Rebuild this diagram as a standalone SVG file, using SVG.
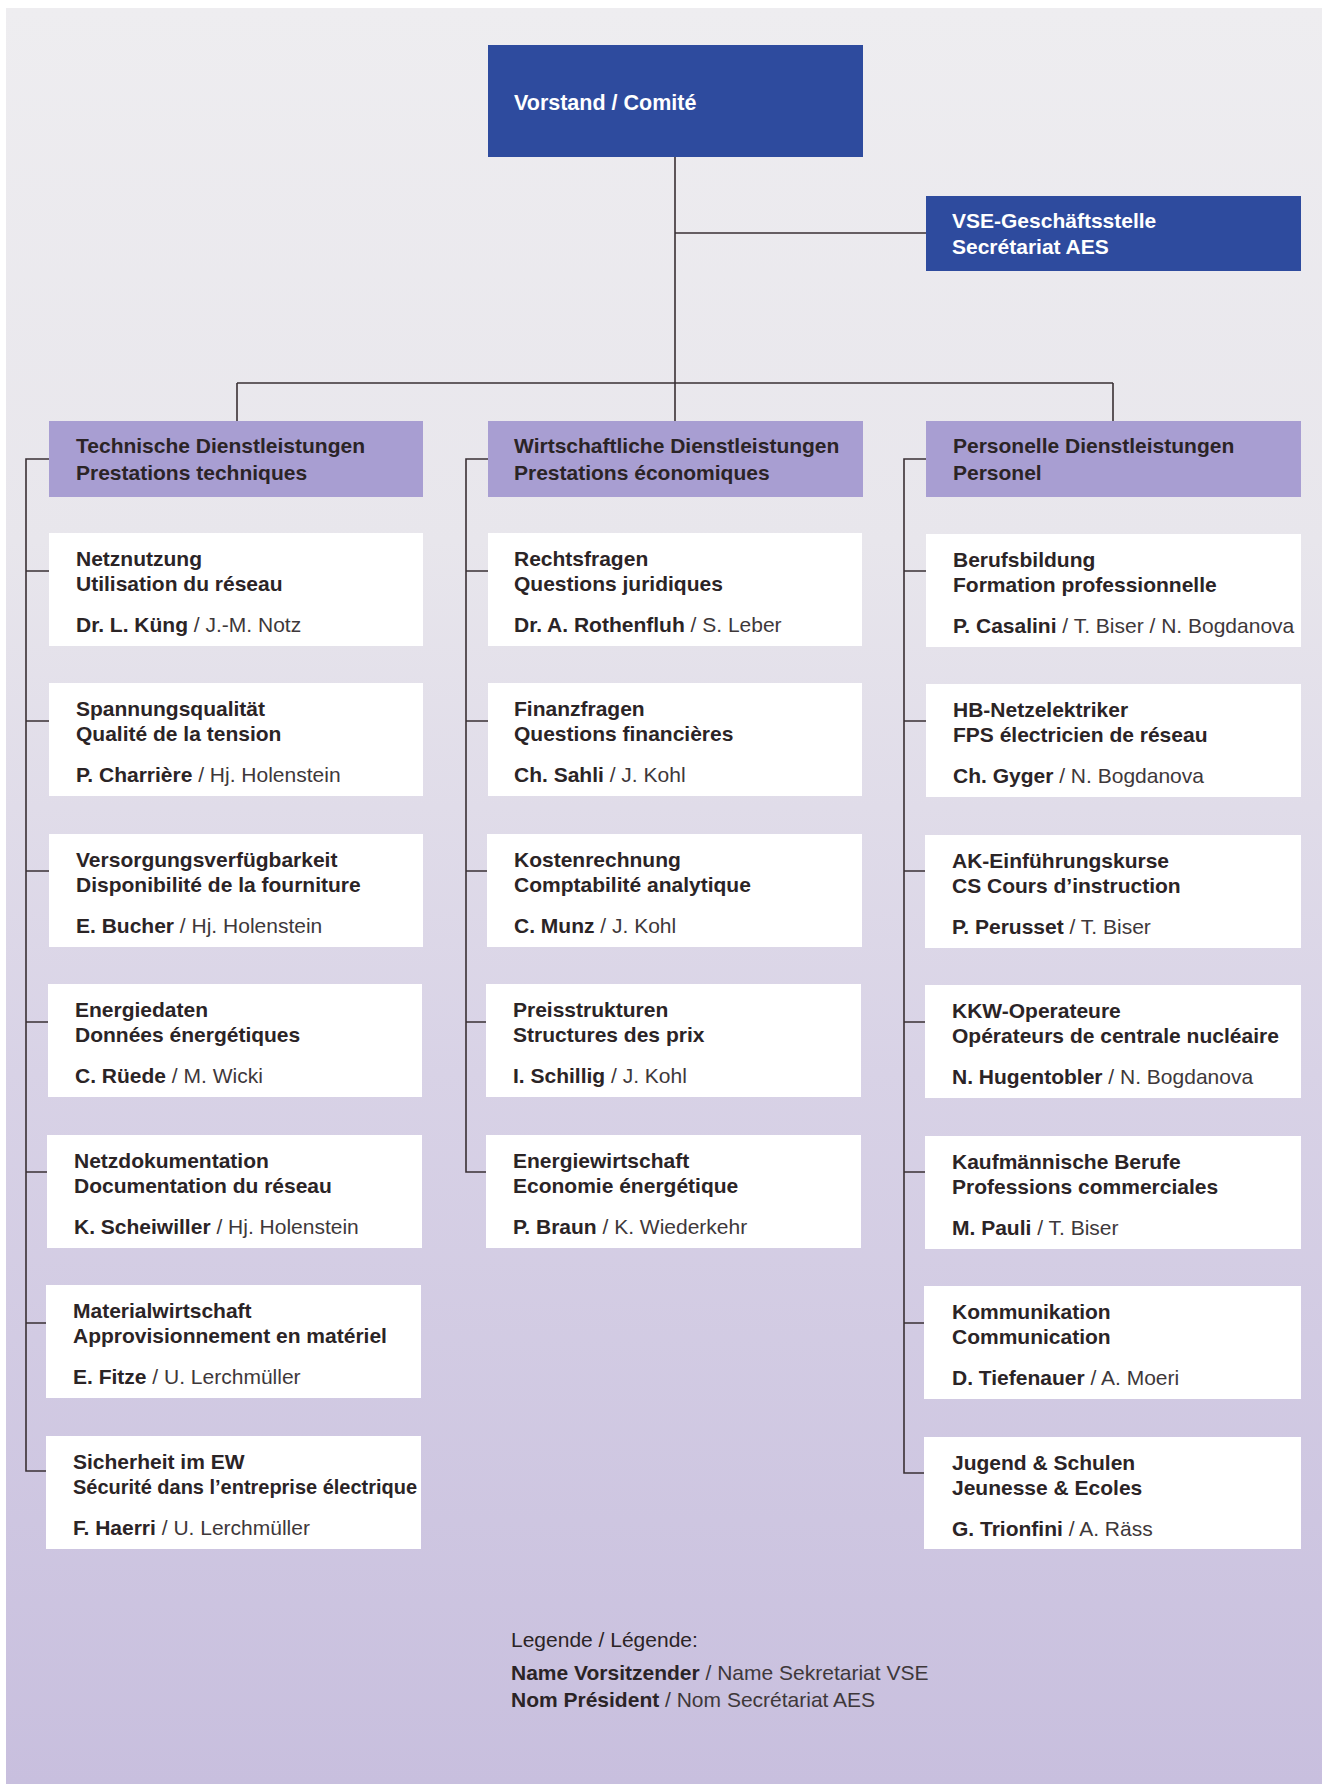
<svg xmlns="http://www.w3.org/2000/svg" width="1327" height="1784" viewBox="0 0 1327 1784">
<defs>
<linearGradient id="bg" x1="0" y1="0" x2="0" y2="1">
<stop offset="0" stop-color="#EEEDF0"/>
<stop offset="0.3" stop-color="#E8E6EC"/>
<stop offset="0.6" stop-color="#D8D2E6"/>
<stop offset="1" stop-color="#C8BFDE"/>
</linearGradient>
<style>
text{font-family:"Liberation Sans",Arial,Helvetica,sans-serif;}
.w{fill:#FFFFFF;font-weight:bold;font-size:21px;}
.t{fill:#2B2426;font-weight:bold;font-size:21px;}
.r{fill:#3E383A;font-weight:normal;}
.lg{fill:#2B2426;font-size:21px;}
.box{fill:#FFFFFF;}
.hdr{fill:#A89ED2;}
.blue{fill:#2E4B9E;}
.ln{stroke:#3A3034;stroke-width:1.6;fill:none;}
</style>
</defs>
<rect x="0" y="0" width="1327" height="1784" fill="#FFFFFF"/>
<rect x="6" y="8" width="1316" height="1776" fill="url(#bg)"/>

<g id="connectors">
<path class="ln" d="M675 157 V421 M675 233 H926 M237 383 H1113 M237 383 V421 M1113 383 V421"/>
<path class="ln" d="M49 459 H26 V1471 H49 M26 571 H49 M26 721 H49 M26 871 H49 M26 1022 H49 M26 1172 H49 M26 1323 H49"/>
<path class="ln" d="M488 459 H466 V1172 H488 M466 571 H488 M466 721 H488 M466 871 H488 M466 1022 H488"/>
<path class="ln" d="M926 459 H904 V1473 H926 M904 571 H926 M904 721 H926 M904 871 H926 M904 1022 H926 M904 1172 H926 M904 1323 H926"/>
</g>

<g id="vorstand"><rect class="blue" x="488" y="45" width="375" height="112"/><text class="w" x="514" y="110" style="font-size:21.5px">Vorstand / Comité</text></g>
<g id="sekretariat"><rect class="blue" x="926" y="196" width="375" height="75"/><text class="w" x="952" y="228">VSE-Geschäftsstelle</text><text class="w" x="952" y="254">Secrétariat AES</text></g>

<g id="h-tech"><rect class="hdr" x="49" y="421" width="374" height="76"/><text class="t" x="76" y="453">Technische Dienstleistungen</text><text class="t" x="76" y="480">Prestations techniques</text></g>
<g id="h-wirt"><rect class="hdr" x="488" y="421" width="375" height="76"/><text class="t" x="514" y="453">Wirtschaftliche Dienstleistungen</text><text class="t" x="514" y="480">Prestations économiques</text></g>
<g id="h-pers"><rect class="hdr" x="926" y="421" width="375" height="76"/><text class="t" x="953" y="453">Personelle Dienstleistungen</text><text class="t" x="953" y="480">Personel</text></g>

<g id="t1"><rect class="box" x="49" y="533" width="374" height="113"/><text class="t" x="76" y="566">Netznutzung</text><text class="t" x="76" y="591">Utilisation du réseau</text><text class="t" x="76" y="632">Dr. L. Küng<tspan class="r"> / J.-M. Notz</tspan></text></g>
<g id="t2"><rect class="box" x="49" y="683" width="374" height="113"/><text class="t" x="76" y="716">Spannungsqualität</text><text class="t" x="76" y="741">Qualité de la tension</text><text class="t" x="76" y="782">P. Charrière<tspan class="r"> / Hj. Holenstein</tspan></text></g>
<g id="t3"><rect class="box" x="49" y="834" width="374" height="113"/><text class="t" x="76" y="867">Versorgungsverfügbarkeit</text><text class="t" x="76" y="892">Disponibilité de la fourniture</text><text class="t" x="76" y="933">E. Bucher<tspan class="r"> / Hj. Holenstein</tspan></text></g>
<g id="t4"><rect class="box" x="48" y="984" width="374" height="113"/><text class="t" x="75" y="1017">Energiedaten</text><text class="t" x="75" y="1042">Données énergétiques</text><text class="t" x="75" y="1083">C. Rüede<tspan class="r"> / M. Wicki</tspan></text></g>
<g id="t5"><rect class="box" x="47" y="1135" width="375" height="113"/><text class="t" x="74" y="1168">Netzdokumentation</text><text class="t" x="74" y="1193">Documentation du réseau</text><text class="t" x="74" y="1234">K. Scheiwiller<tspan class="r"> / Hj. Holenstein</tspan></text></g>
<g id="t6"><rect class="box" x="46" y="1285" width="375" height="113"/><text class="t" x="73" y="1318">Materialwirtschaft</text><text class="t" x="73" y="1343">Approvisionnement en matériel</text><text class="t" x="73" y="1384">E. Fitze<tspan class="r"> / U. Lerchmüller</tspan></text></g>
<g id="t7"><rect class="box" x="46" y="1436" width="375" height="113"/><text class="t" x="73" y="1469">Sicherheit im EW</text><text class="t" x="73" y="1494" textLength="344" lengthAdjust="spacingAndGlyphs">Sécurité dans l’entreprise électrique</text><text class="t" x="73" y="1535">F. Haerri<tspan class="r"> / U. Lerchmüller</tspan></text></g>

<g id="w1"><rect class="box" x="488" y="533" width="374" height="113"/><text class="t" x="514" y="566">Rechtsfragen</text><text class="t" x="514" y="591">Questions juridiques</text><text class="t" x="514" y="632">Dr. A. Rothenfluh<tspan class="r"> / S. Leber</tspan></text></g>
<g id="w2"><rect class="box" x="488" y="683" width="374" height="113"/><text class="t" x="514" y="716">Finanzfragen</text><text class="t" x="514" y="741">Questions financières</text><text class="t" x="514" y="782">Ch. Sahli<tspan class="r"> / J. Kohl</tspan></text></g>
<g id="w3"><rect class="box" x="487" y="834" width="375" height="113"/><text class="t" x="514" y="867">Kostenrechnung</text><text class="t" x="514" y="892">Comptabilité analytique</text><text class="t" x="514" y="933">C. Munz<tspan class="r"> / J. Kohl</tspan></text></g>
<g id="w4"><rect class="box" x="486" y="984" width="375" height="113"/><text class="t" x="513" y="1017">Preisstrukturen</text><text class="t" x="513" y="1042">Structures des prix</text><text class="t" x="513" y="1083">I. Schillig<tspan class="r"> / J. Kohl</tspan></text></g>
<g id="w5"><rect class="box" x="486" y="1135" width="375" height="113"/><text class="t" x="513" y="1168">Energiewirtschaft</text><text class="t" x="513" y="1193">Economie énergétique</text><text class="t" x="513" y="1234">P. Braun<tspan class="r"> / K. Wiederkehr</tspan></text></g>

<g id="p1"><rect class="box" x="926" y="534" width="375" height="113"/><text class="t" x="953" y="567">Berufsbildung</text><text class="t" x="953" y="592">Formation professionnelle</text><text class="t" x="953" y="633">P. Casalini<tspan class="r"> / T. Biser / N. Bogdanova</tspan></text></g>
<g id="p2"><rect class="box" x="926" y="684" width="375" height="113"/><text class="t" x="953" y="717">HB-Netzelektriker</text><text class="t" x="953" y="742">FPS électricien de réseau</text><text class="t" x="953" y="783">Ch. Gyger<tspan class="r"> / N. Bogdanova</tspan></text></g>
<g id="p3"><rect class="box" x="925" y="835" width="376" height="113"/><text class="t" x="952" y="868">AK-Einführungskurse</text><text class="t" x="952" y="893">CS Cours d’instruction</text><text class="t" x="952" y="934">P. Perusset<tspan class="r"> / T. Biser</tspan></text></g>
<g id="p4"><rect class="box" x="925" y="985" width="376" height="113"/><text class="t" x="952" y="1018">KKW-Operateure</text><text class="t" x="952" y="1043">Opérateurs de centrale nucléaire</text><text class="t" x="952" y="1084">N. Hugentobler<tspan class="r"> / N. Bogdanova</tspan></text></g>
<g id="p5"><rect class="box" x="925" y="1136" width="376" height="113"/><text class="t" x="952" y="1169">Kaufmännische Berufe</text><text class="t" x="952" y="1194">Professions commerciales</text><text class="t" x="952" y="1235">M. Pauli<tspan class="r"> / T. Biser</tspan></text></g>
<g id="p6"><rect class="box" x="924" y="1286" width="377" height="113"/><text class="t" x="952" y="1319">Kommunikation</text><text class="t" x="952" y="1344">Communication</text><text class="t" x="952" y="1385">D. Tiefenauer<tspan class="r"> / A. Moeri</tspan></text></g>
<g id="p7"><rect class="box" x="924" y="1437" width="377" height="112"/><text class="t" x="952" y="1470">Jugend &amp; Schulen</text><text class="t" x="952" y="1495">Jeunesse &amp; Ecoles</text><text class="t" x="952" y="1536">G. Trionfini<tspan class="r"> / A. Räss</tspan></text></g>

<g id="legende">
<text class="lg" x="511" y="1647" fill="#3E383A">Legende / Légende:</text>
<text class="lg" x="511" y="1680" font-weight="bold">Name Vorsitzender<tspan class="r" font-weight="normal"> / Name Sekretariat VSE</tspan></text>
<text class="lg" x="511" y="1707" font-weight="bold">Nom Président<tspan class="r" font-weight="normal"> / Nom Secrétariat AES</tspan></text>
</g>
</svg>
